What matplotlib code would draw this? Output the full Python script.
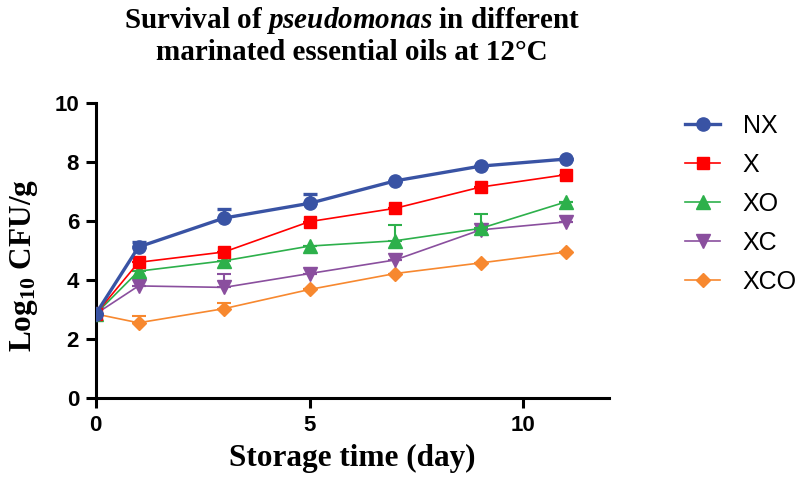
import matplotlib
matplotlib.use("Agg")
import matplotlib.pyplot as plt
import numpy as np

plt.rcParams["font.family"] = ["Liberation Sans", "DejaVu Sans"]
plt.rcParams["mathtext.fontset"] = "custom"
plt.rcParams["mathtext.rm"] = "Liberation Serif:bold"
plt.rcParams["mathtext.it"] = "Liberation Serif:italic:bold"
plt.rcParams["mathtext.bf"] = "Liberation Serif:bold"

days = [0, 1, 3, 5, 7, 9, 11]

nx = [2.85, 5.12, 6.10, 6.60, 7.36, 7.86, 8.10]
x_only = [2.85, 4.60, 4.95, 5.98, 6.43, 7.15, 7.57]
xo = [2.85, 4.30, 4.65, 5.15, 5.33, 5.75, 6.65]
xc = [2.85, 3.80, 3.75, 4.22, 4.68, 5.70, 5.97]
xco = [2.85, 2.55, 3.03, 3.68, 4.22, 4.58, 4.95]

# upper error bars only
nx_err = [0.0, 0.18, 0.30, 0.30, 0.0, 0.0, 0.0]
x_err = [0.0, 0.0, 0.0, 0.0, 0.0, 0.0, 0.0]
xo_err = [0.0, 0.0, 0.0, 0.0, 0.53, 0.48, 0.0]
xc_err = [0.0, 0.0, 0.45, 0.0, 0.0, 0.0, 0.0]
xco_err = [0.0, 0.23, 0.20, 0.0, 0.0, 0.0, 0.0]

series = [
    ("NX", nx, nx_err, "#3953A4", "o", 2.4, 9.5),
    ("X", x_only, x_err, "#FF0000", "s", 1.2, 9),
    ("XO", xo, xo_err, "#2DB04B", "^", 1.2, 9.5),
    ("XC", xc, xc_err, "#8A4F9E", "v", 1.2, 9.5),
    ("XCO", xco, xco_err, "#F7882F", "D", 1.2, 7.5),
]

fig = plt.figure(figsize=(7.98, 4.79), dpi=100)
ax = fig.add_axes([0.12, 0.169, 0.643, 0.616])

n = len(series)
for i, (name, vals, err, color, marker, lw, ms) in enumerate(series):
    z = 3 + (n - i)
    yerr = np.vstack([np.zeros(len(err)), err])
    ax.errorbar(days, vals, yerr=yerr, fmt="none", ecolor=color,
                elinewidth=max(lw, 1.5), capsize=5, capthick=max(lw, 1.5),
                zorder=z)
    ax.plot(days, vals, color=color, marker=marker, linewidth=lw,
            markersize=ms, label=name, zorder=z)

ax.set_xlim(0, 12)
ax.set_ylim(0, 10)
ax.set_xticks([0, 5, 10])
ax.set_yticks([0, 2, 4, 6, 8, 10])
for side in ["top", "right"]:
    ax.spines[side].set_visible(False)
for side in ["left", "bottom"]:
    ax.spines[side].set_linewidth(2.2)
ax.tick_params(direction="out", length=7, width=2.2, labelsize=16, pad=5)
for lab in ax.get_xticklabels() + ax.get_yticklabels():
    lab.set_fontweight("bold")

ax.set_xlabel("Storage time (day)", family="Liberation Serif",
              fontweight="bold", fontsize=22.5, labelpad=6)
ax.set_ylabel(r"Log$_{\mathbf{10}}$ CFU/g", family="Liberation Serif",
              fontweight="bold", fontsize=22.5)
ax.yaxis.set_label_coords(-0.109, 0.45)

fig.text(0.441, 1 - 20 / 479, r"Survival of $\mathit{pseudomonas}$ in different",
         family="Liberation Serif", fontweight="bold", fontsize=21,
         ha="center", va="center")
fig.text(0.441, 1 - 52 / 479, "marinated essential oils at 12°C",
         family="Liberation Serif", fontweight="bold", fontsize=21,
         ha="center", va="center")

ax.legend(loc="upper left", bbox_to_anchor=(1.105, 1.04), frameon=False,
          fontsize=18, handlelength=1.4, labelspacing=0.6, handletextpad=0.9)

fig.savefig("out.png", dpi=100)
